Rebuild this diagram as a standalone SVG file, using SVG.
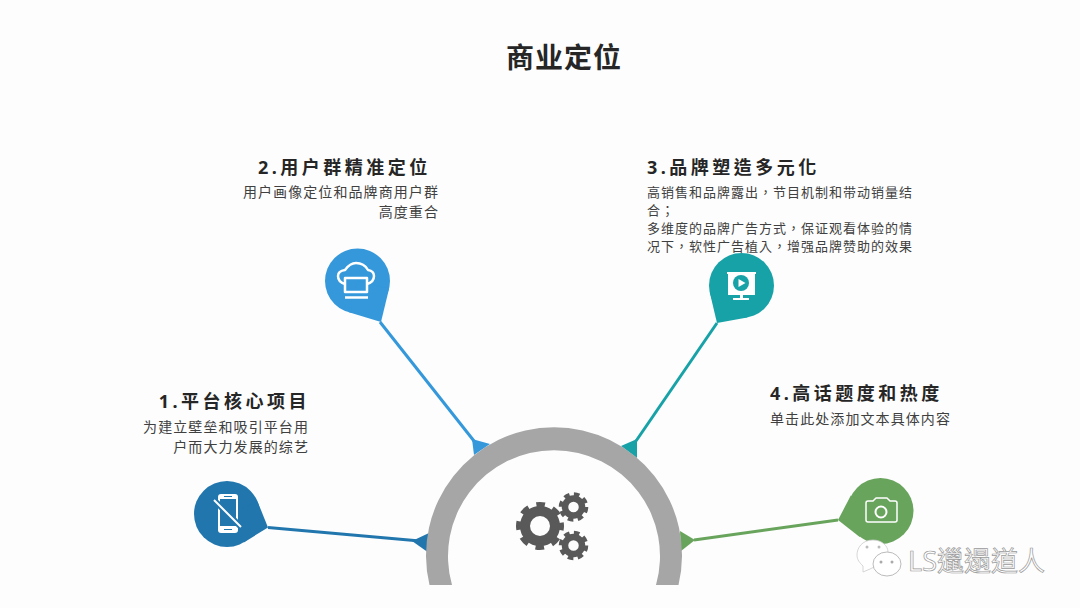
<svg xmlns="http://www.w3.org/2000/svg" lang="zh-Hant" xml:lang="zh-Hant" width="1080" height="608" viewBox="0 0 1080 608">
<style>
text{font-family:"Noto Sans","Noto Sans CJK TC",sans-serif;fill:#404040}
.t{font-size:28px;font-weight:700;fill:#262626;letter-spacing:1px}
.h{font-size:18px;font-weight:700;letter-spacing:3.500px;fill:#262626}
.b{font-size:14px;letter-spacing:1.080px}
.c{font-size:13px;letter-spacing:1px}
.e{text-anchor:end}
.i{fill:none;stroke:#fff;stroke-width:2.500;stroke-linejoin:round}
.f{fill:#fff}
.w{font-size:27px;fill:#fff;stroke:#999;stroke-width:.7}
.gb{fill:none;stroke:#595959}
</style>
<rect width="1080" height="608" fill="#fdfdfd"/>
<text class="t" x="506" y="68">商业定位</text>
<g id="connectors">
<path d="M268 527.500L420 541" stroke="#2176ae" stroke-width="3" fill="none"/>
<path d="M412 541L429 533L429 553Z" fill="#2176ae"/>
<path d="M380 322L474 441" stroke="#3498db" stroke-width="3" fill="none"/>
<path d="M472 439L490 444L474 455Z" fill="#3498db"/>
<path d="M717 323L636 441" stroke="#17a2a8" stroke-width="3" fill="none"/>
<path d="M637 439L621 446L637 458Z" fill="#17a2a8"/>
<path d="M838 520L694 540" stroke="#68a45c" stroke-width="3" fill="none"/>
<path d="M695 540L680 531L681 551Z" fill="#68a45c"/>
</g>
<g id="hub">
<path d="M429.500 585A128 128 0 1 1 678.500 585L656 585A106 106 0 1 0 452 585Z" fill="#a6a6a6"/>
<circle class="gb" cx="540" cy="526" r="15" stroke-width="10"/>
<circle class="gb" cx="540" cy="526" r="21" stroke-width="6" stroke-dasharray="8.500 7.990" stroke-dashoffset="4.250"/>
<circle class="gb" cx="573.500" cy="507" r="8.500" stroke-width="6.500"/>
<circle class="gb" cx="573.500" cy="507" r="12.500" stroke-width="4.500" stroke-dasharray="5.500 4.320"/>
<circle class="gb" cx="573.500" cy="545.500" r="8.500" stroke-width="6.500"/>
<circle class="gb" cx="573.500" cy="545.500" r="12.500" stroke-width="4.500" stroke-dasharray="5.500 4.320"/>
</g>
<g id="node1">
<circle cx="227" cy="514" r="33" fill="#2176ae"/>
<path d="M257.700 501.900L268 527.500L243.800 542.400L227 514Z" fill="#2176ae"/>
<rect class="f" x="218" y="494" width="20" height="39" rx="3"/>
<rect x="220" y="499" width="16" height="27" fill="#2176ae"/>
<path d="M214 500L241 527" stroke="#2176ae" stroke-width="6"/>
<path d="M214 500L241 527" stroke="#fff" stroke-width="2"/>
<path d="M224 496.500H232M224 529.500H232" stroke="#2176ae" stroke-width="1.200"/>
<text class="h e" x="310" y="408">1.平台核心项目</text>
<text class="b e" x="309" y="432">为建立壁垒和吸引平台用</text>
<text class="b e" x="309" y="452">户而大力发展的综艺</text>
</g>
<g id="node2">
<circle cx="357.500" cy="281" r="32.500" fill="#3498db"/>
<path d="M389.100 288.600L381 322L348.100 312.100L357.500 281Z" fill="#3498db"/>
<path class="i" d="M345 284Q338 282 338 276Q338 271 345 270Q350 263 356 263Q364 263 368 270Q374 271 374 276Q374 282 367 284"/>
<rect class="i" x="345" y="278" width="22" height="14"/>
<path class="i" d="M345 297.500H368"/>
<text class="h" x="258" y="174">2.用户群精准定位</text>
<text class="b e" x="439" y="197">用户画像定位和品牌商用户群</text>
<text class="b e" x="439" y="217">高度重合</text>
</g>
<g id="node3">
<circle cx="741.500" cy="285.500" r="32.500" fill="#17a2a8"/>
<path d="M747.300 317.500L717 323L709.900 293L741.500 285.500Z" fill="#17a2a8"/>
<path class="f" d="M727 272H756V274H755V295H743V298H749V300H733V298H740V295H728V274H727Z"/>
<circle cx="741" cy="283" r="8" fill="#17a2a8"/>
<path class="f" d="M738.500 279L745.500 283L738.500 287Z"/>
<text class="h" x="647" y="174">3.品牌塑造多元化</text>
<text class="c" x="647" y="197">高销售和品牌露出，节目机制和带动销量结</text>
<text class="c" x="647" y="215">合；</text>
<text class="c" x="647" y="233">多维度的品牌广告方式，保证观看体验的情</text>
<text class="c" x="647" y="251">况下，软性广告植入，增强品牌赞助的效果</text>
</g>
<g id="node4">
<circle cx="880.500" cy="511" r="33" fill="#68a45c"/>
<path d="M859.700 537L838 520L850.800 495.600L880.500 511Z" fill="#68a45c"/>
<path class="i" style="stroke-width:1.500" d="M866 503Q866 501 868 501H873L876 498H887L890 501H895Q897 501 897 503V520Q897 522 895 522H868Q866 522 866 520Z"/>
<circle class="i" style="stroke-width:2" cx="881" cy="512" r="5.500"/>
<text class="h" x="770" y="400">4.高话题度和热度</text>
<text class="b" x="770" y="424">单击此处添加文本具体内容</text>
</g>
<g id="watermark">
<path d="M873 540C862 540 857 548 857 555C857 560 860 563 863 566L863 572L870 569L888 560L888 552C888 546 882 540 873 540Z" fill="#fff" stroke="#ccc" stroke-width=".8"/>
<ellipse cx="887" cy="564" rx="14" ry="12" fill="#fff" stroke="#aaa" stroke-width=".8"/>
<circle cx="881" cy="562" r="1.500" fill="#aaa"/><circle cx="892" cy="562" r="1.500" fill="#aaa"/>
<circle cx="867" cy="547" r="1.500" fill="#bbb"/><circle cx="879" cy="547" r="1.500" fill="#bbb"/>
<text class="w" x="908" y="571">LS邋遢道人</text>
</g>
</svg>
